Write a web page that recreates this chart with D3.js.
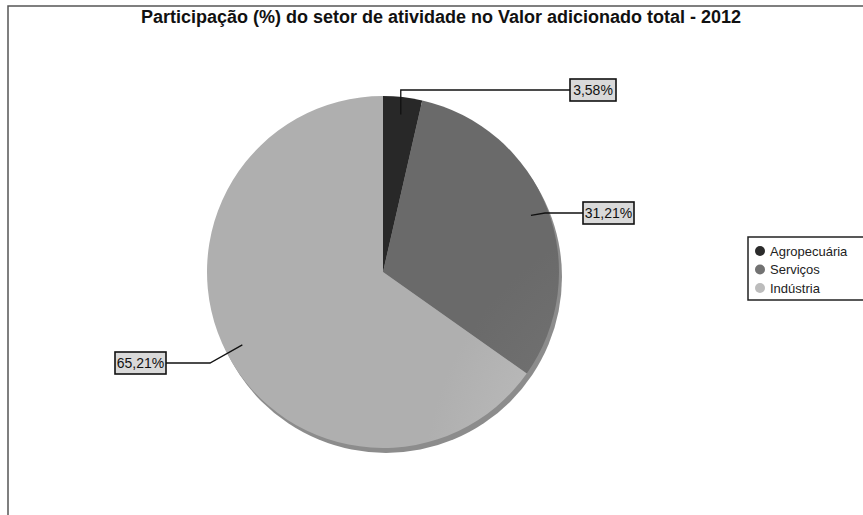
<!DOCTYPE html>
<html>
<head>
<meta charset="utf-8">
<script src="https://cdn.jsdelivr.net/npm/d3@7"></script>
<style>
  body { margin: 0; background: #fff; }
  text { font-family: "Liberation Sans", Arial, sans-serif; }
</style>
</head>
<body>
<div id="chart"></div>
<script>
// data
var categories = ["Agropecuária", "Serviços", "Indústria"];
var values = [3.58, 31.21, 65.21];
var labels = ["3,58%", "31,21%", "65,21%"];
var colors = ["#2b2b2b", "#727272", "#bcbcbc"];
var title = "Participação (%) do setor de atividade no Valor adicionado total - 2012";

var w = 863, h = 515;
var cx = 383, cy = 272, r = 176;

var svg = d3.select("#chart").append("svg")
    .attr("width", w)
    .attr("height", h);

// frame
svg.append("path")
    .attr("d", "M8," + h + " L8,6 L" + w + ",6")
    .attr("fill", "none")
    .attr("stroke", "#555")
    .attr("stroke-width", 1.5);

svg.append("text")
    .attr("x", 441)
    .attr("y", 23)
    .attr("text-anchor", "middle")
    .attr("font-size", "18px")
    .attr("font-weight", "bold")
    .attr("fill", "#111")
    .text(title);

// gradients for a bit of shading
var defs = svg.append("defs");
colors.forEach(function(c, i) {
    var g = defs.append("radialGradient")
        .attr("id", "g" + i)
        .attr("gradientUnits", "userSpaceOnUse")
        .attr("cx", cx - 60).attr("cy", cy - 60).attr("r", r * 1.6);
    g.append("stop").attr("offset", "0%").attr("stop-color", d3.color(c).brighter(0.25));
    g.append("stop").attr("offset", "100%").attr("stop-color", d3.color(c).darker(0.2));
});

var pie = d3.pie().sort(null).value(function(d) { return d; });
var arcs = pie(values);
var arc = d3.arc().innerRadius(0).outerRadius(r);

var pieG = svg.append("g").attr("transform", "translate(" + cx + "," + cy + ")");

// rim / thickness at lower right
pieG.append("circle")
    .attr("cx", 3).attr("cy", 5)
    .attr("r", r)
    .attr("fill", "#8c8c8c");

pieG.selectAll("path.slice")
    .data(arcs)
    .enter()
    .append("path")
    .attr("class", "slice")
    .attr("d", arc)
    .attr("fill", function(d, i) { return "url(#g" + i + ")"; });

// labels with leader lines
var anchorArc = d3.arc().innerRadius(r * 0.9).outerRadius(r * 0.9);
// label box placement (layout only): box left/top, elbow point
var boxes = [
    { x: 570, y: 79, w: 46, elbow: "vertical", ey: 89 },
    { x: 583, y: 202, w: 51, elbow: "diag", ex: 545, ey: 213 },
    { x: 115, y: 352, w: 51, elbow: "diag", ex: 210, ey: 363 }
];

arcs.forEach(function(d, i) {
    var c = anchorArc.centroid(d);
    var ax = cx + c[0], ay = cy + c[1];
    var b = boxes[i];
    var by = b.y + 11;
    var pts;
    if (b.elbow === "vertical") {
        pts = [[ax, ay], [ax, by], [b.x, by]];
    } else if (b.x > cx) {
        pts = [[ax, ay], [b.ex, by], [b.x, by]];
    } else {
        pts = [[ax, ay], [b.ex, by], [b.x + b.w, by]];
    }
    svg.append("path")
        .attr("d", d3.line()(pts))
        .attr("fill", "none")
        .attr("stroke", "#111")
        .attr("stroke-width", 1.3);
    svg.append("rect")
        .attr("x", b.x).attr("y", b.y)
        .attr("width", b.w).attr("height", 22)
        .attr("fill", "#d9d9d9")
        .attr("stroke", "#111")
        .attr("stroke-width", 1.6);
    svg.append("text")
        .attr("x", b.x + b.w / 2)
        .attr("y", b.y + 16)
        .attr("text-anchor", "middle")
        .attr("font-size", "14px")
        .attr("fill", "#111")
        .text(labels[i]);
});

// legend
var legend = svg.append("g");
legend.append("rect")
    .attr("x", 748).attr("y", 237)
    .attr("width", 130).attr("height", 63)
    .attr("fill", "#fff")
    .attr("stroke", "#222")
    .attr("stroke-width", 1.5);
var ly = d3.scalePoint().domain(categories).range([251, 288]);
categories.forEach(function(c, i) {
    legend.append("circle")
        .attr("cx", 760).attr("cy", ly(c))
        .attr("r", 5)
        .attr("fill", colors[i]);
    legend.append("text")
        .attr("x", 770).attr("y", ly(c) + 4.5)
        .attr("font-size", "13px")
        .attr("fill", "#222")
        .text(c);
});
</script>
</body>
</html>
